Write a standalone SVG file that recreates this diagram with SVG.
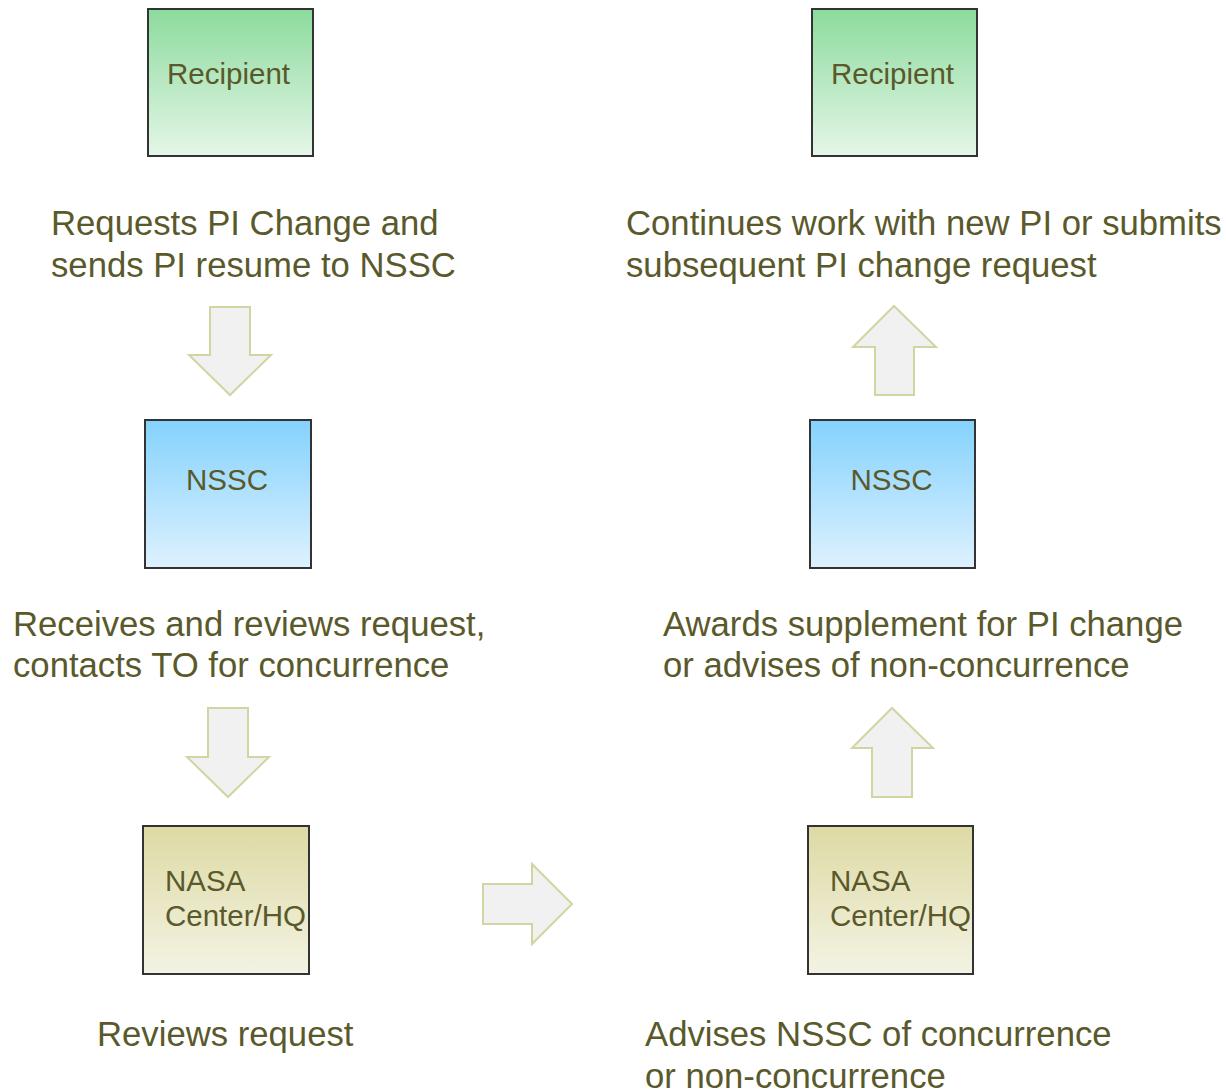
<svg xmlns="http://www.w3.org/2000/svg" width="1226" height="1091" viewBox="0 0 1226 1091">
<defs>
<linearGradient id="gGreen" x1="0" y1="0" x2="0" y2="1"><stop offset="0" stop-color="#8cdb9d"/><stop offset="1" stop-color="#e5f6e8"/></linearGradient>
<linearGradient id="gBlue" x1="0" y1="0" x2="0" y2="1"><stop offset="0" stop-color="#84d2fd"/><stop offset="1" stop-color="#def1fe"/></linearGradient>
<linearGradient id="gYellow" x1="0" y1="0" x2="0" y2="1"><stop offset="0" stop-color="#dddaa3"/><stop offset="1" stop-color="#f4f3e4"/></linearGradient>
</defs>
<style>
.box{stroke:#333333;stroke-width:2}
.lbl{font-family:"Liberation Sans",Arial,sans-serif;font-size:29.5px;fill:#5a592b}
.big{font-family:"Liberation Sans",Arial,sans-serif;font-size:34.7px;fill:#5a592b}
.arr{fill:#f1f1f1;stroke:#d2d4a2;stroke-width:2;stroke-linejoin:miter}
</style>
<rect width="1226" height="1091" fill="#ffffff"/>
<g id="recipient-left">
<rect class="box" x="148" y="9" width="165" height="147" fill="url(#gGreen)"/>
<text class="lbl" x="228.5" y="84" text-anchor="middle">Recipient</text>
</g>
<g id="recipient-right">
<rect class="box" x="812" y="9" width="165" height="147" fill="url(#gGreen)"/>
<text class="lbl" x="892.5" y="84" text-anchor="middle">Recipient</text>
</g>
<g id="nssc-left">
<rect class="box" x="145" y="420" width="166" height="148" fill="url(#gBlue)"/>
<text class="lbl" x="227" y="490" text-anchor="middle">NSSC</text>
</g>
<g id="nssc-right">
<rect class="box" x="810" y="420" width="165" height="148" fill="url(#gBlue)"/>
<text class="lbl" x="891.5" y="490" text-anchor="middle">NSSC</text>
</g>
<g id="nasa-left">
<rect class="box" x="143" y="826" width="166" height="148" fill="url(#gYellow)"/>
<text class="lbl" x="165" y="891">NASA</text>
<text class="lbl" x="165" y="926">Center/HQ</text>
</g>
<g id="nasa-right">
<rect class="box" x="808" y="826" width="165" height="148" fill="url(#gYellow)"/>
<text class="lbl" x="830" y="891">NASA</text>
<text class="lbl" x="830" y="926">Center/HQ</text>
</g>
<g id="text-requests">
<text class="big" x="51" y="235">Requests PI Change and</text>
<text class="big" x="51" y="277">sends PI resume to NSSC</text>
</g>
<g id="text-receives">
<text class="big" x="13" y="636">Receives and reviews request,</text>
<text class="big" x="13" y="677">contacts TO for concurrence</text>
</g>
<g id="text-reviews">
<text class="big" x="97" y="1046">Reviews request</text>
</g>
<g id="text-continues">
<text class="big" x="626" y="235">Continues work with new PI or submits</text>
<text class="big" x="626" y="277">subsequent PI change request</text>
</g>
<g id="text-awards">
<text class="big" x="663" y="636">Awards supplement for PI change</text>
<text class="big" x="663" y="677">or advises of non-concurrence</text>
</g>
<g id="text-advises">
<text class="big" x="645" y="1046">Advises NSSC of concurrence</text>
<text class="big" x="645" y="1088">or non-concurrence</text>
</g>
<g id="connectors">
<polygon class="arr" points="210,307 250,307 250,355 271,355 230,395 189,355 210,355"/>
<polygon class="arr" points="208,708 248,708 248,757 269,757 228,797 187,757 208,757"/>
<polygon class="arr" points="483,884 532,884 532,864 572,904 532,944 532,924 483,924"/>
<polygon class="arr" points="875,395 914,395 914,347 936,347 894,306 853,347 875,347"/>
<polygon class="arr" points="872,797 912,797 912,748 933,748 892,708 852,748 872,748"/>
</g>
</svg>
